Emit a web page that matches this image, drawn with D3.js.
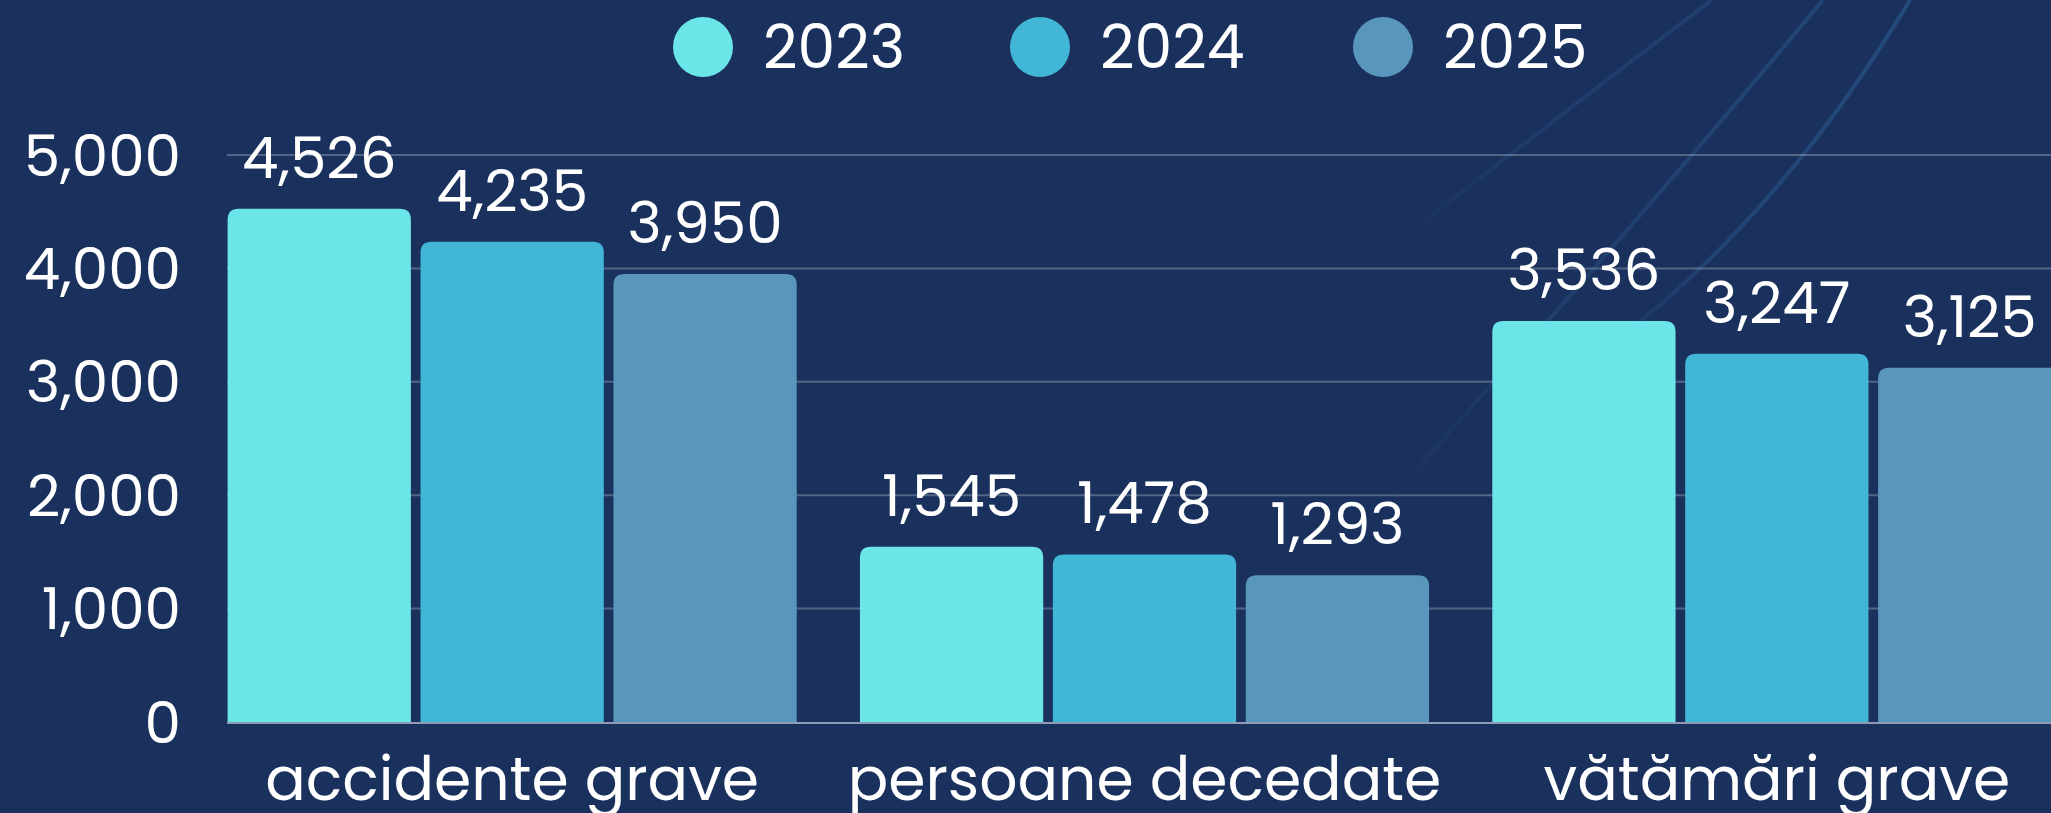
<!DOCTYPE html>
<html>
<head>
<meta charset="utf-8">
<script src="https://cdnjs.cloudflare.com/ajax/libs/d3/7.8.5/d3.min.js"></script>
<style>
  body { margin: 0; background: #1b315d; overflow: hidden; }
  text { font-family: "Poppins", "Noto Sans", sans-serif; fill: #ffffff; }
</style>
</head>
<body>
<script>
// data
var categories = ["accidente grave", "persoane decedate", "vătămări grave"];
var years = ["2023", "2024", "2025"];
var values2023 = [4526, 1545, 3536];
var values2024 = [4235, 1478, 3247];
var values2025 = [3950, 1293, 3125];
var yTicks = [0, 1000, 2000, 3000, 4000, 5000];
var colors = ["#6ce5e8", "#41b6d6", "#5896bc"];

var width = 2051, height = 813;
var margin = {top: 155, bottom: 91, left: 196};

var svg = d3.select("body").append("svg")
    .attr("width", width)
    .attr("height", height);

svg.append("rect")
    .attr("width", width)
    .attr("height", height)
    .attr("fill", "#1b315d");

// faint decorative arcs, top right, fading toward the lower left
var decoArcs = [
  {d: "M1712,0 Q1580,100 1400,240", x1: 1712, y1: 0, x2: 1400, y2: 240, op: 0.35},
  {d: "M1823,0 Q1640,220 1380,510", x1: 1823, y1: 0, x2: 1380, y2: 510, op: 0.45},
  {d: "M1910,0 Q1760,250 1560,380", x1: 1910, y1: 0, x2: 1560, y2: 380, op: 0.6}
];
var defs = svg.append("defs");
decoArcs.forEach(function(a, i) {
  var g = defs.append("linearGradient")
      .attr("id", "fade" + i)
      .attr("gradientUnits", "userSpaceOnUse")
      .attr("x1", a.x1).attr("y1", a.y1)
      .attr("x2", a.x2).attr("y2", a.y2);
  g.append("stop").attr("offset", 0).attr("stop-color", "#2a5d95").attr("stop-opacity", a.op);
  g.append("stop").attr("offset", 0.6).attr("stop-color", "#2a5d95").attr("stop-opacity", a.op * 0.7);
  g.append("stop").attr("offset", 1).attr("stop-color", "#2a5d95").attr("stop-opacity", 0);
  svg.append("path")
      .attr("d", a.d)
      .attr("fill", "none")
      .attr("stroke", "url(#fade" + i + ")")
      .attr("stroke-width", 4);
});

var table = categories.map(function(c, i) {
  return {cat: c, vals: [values2023[i], values2024[i], values2025[i]]};
});

var x0 = d3.scaleBand()
    .domain(categories)
    .range([margin.left, 2093])
    .paddingInner(0.1)
    .paddingOuter(0.05);

var x1 = d3.scaleBand()
    .domain(years)
    .range([0, x0.bandwidth()])
    .paddingInner(0.05);

var y = d3.scaleLinear()
    .domain([0, 5000])
    .range([height - margin.bottom, margin.top]);

// gridlines
svg.append("g")
  .selectAll("line")
  .data(yTicks.slice(1))
  .enter().append("line")
    .attr("x1", x0.range()[0] + 31)
    .attr("x2", width)
    .attr("y1", function(d) { return y(d); })
    .attr("y2", function(d) { return y(d); })
    .attr("stroke", "#ffffff")
    .attr("stroke-opacity", 0.25)
    .attr("stroke-width", 2);

// y axis labels
svg.append("g")
  .selectAll("text")
  .data(yTicks)
  .enter().append("text")
    .attr("x", 181)
    .attr("y", function(d) { return y(d); })
    .attr("text-anchor", "end")
    .attr("dominant-baseline", "central")
    .style("font-size", "58px")
    .text(d3.format(","));

// bars with rounded tops
function topRounded(x, yTop, w, h, r) {
  r = Math.min(r, h, w / 2);
  return "M" + x + "," + (yTop + h) +
    "V" + (yTop + r) +
    "Q" + x + "," + yTop + " " + (x + r) + "," + yTop +
    "H" + (x + w - r) +
    "Q" + (x + w) + "," + yTop + " " + (x + w) + "," + (yTop + r) +
    "V" + (yTop + h) + "Z";
}

var groups = svg.append("g")
  .selectAll("g")
  .data(table)
  .enter().append("g")
    .attr("transform", function(d) { return "translate(" + x0(d.cat) + ",0)"; });

var cells = groups.selectAll("g")
  .data(function(d) { return d.vals.map(function(v, i) { return {year: years[i], v: v, i: i}; }); })
  .enter().append("g");

cells.append("path")
    .attr("fill", function(d) { return colors[d.i]; })
    .attr("d", function(d) {
      return topRounded(x1(d.year), y(d.v), x1.bandwidth(), y(0) - y(d.v), 11);
    });

cells.append("text")
    .attr("x", function(d) { return x1(d.year) + x1.bandwidth() / 2; })
    .attr("y", function(d) { return y(d.v) - 31; })
    .attr("text-anchor", "middle")
    .style("font-size", "58px")
    .text(function(d) { return d3.format(",")(d.v); });

// baseline
svg.append("line")
    .attr("x1", x0.range()[0] + 31)
    .attr("x2", width)
    .attr("y1", y(0) + 1)
    .attr("y2", y(0) + 1)
    .attr("stroke", "#8e9bb5")
    .attr("stroke-width", 2);

// category labels
svg.append("g")
  .selectAll("text")
  .data(categories)
  .enter().append("text")
    .attr("x", function(d) { return x0(d) + x0.bandwidth() / 2; })
    .attr("y", 800)
    .attr("text-anchor", "middle")
    .style("font-size", "60px")
    .text(function(d) { return d; });

// legend
var legendX = [703, 1040, 1383];
var legend = svg.append("g")
  .selectAll("g")
  .data(years)
  .enter().append("g")
    .attr("transform", function(d, i) { return "translate(" + legendX[i] + ",47)"; });

legend.append("circle")
    .attr("r", 30)
    .attr("fill", function(d, i) { return colors[i]; });

legend.append("text")
    .attr("x", 60)
    .attr("dominant-baseline", "central")
    .style("font-size", "60px")
    .text(function(d) { return d; });
</script>
</body>
</html>
